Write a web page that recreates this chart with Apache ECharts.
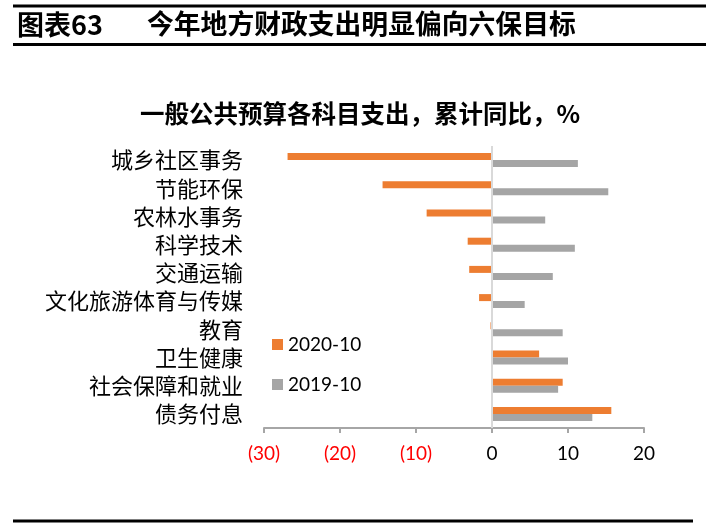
<!DOCTYPE html>
<html>
<head>
<meta charset="utf-8">
<script src="https://cdn.jsdelivr.net/npm/echarts@6/dist/echarts.min.js"></script>
<style>
html,body{margin:0;padding:0;background:#fff;}
#main{width:717px;height:523px;}
</style>
</head>
<body>
<div id="main"></div>
<script>
const categories = ['城乡社区事务','节能环保','农林水事务','科学技术','交通运输','文化旅游体育与传媒','教育','卫生健康','社会保障和就业','债务付息'];
const series2020 = [-26.9, -14.4, -8.6, -3.2, -3.0, -1.7, -0.2, 6.2, 9.3, 15.7];
const series2019 = [11.3, 15.3, 7.0, 10.9, 8.0, 4.3, 9.3, 10.0, 8.7, 13.2];
const seriesNames = ['2020-10','2019-10'];
const xTicks = { min: -30, max: 20, interval: 10 };
const figTitle = '图表63';
const figSubject = '今年地方财政支出明显偏向六保目标';
const chartTitle = '一般公共预算各科目支出，累计同比，%';

const chart = echarts.init(document.getElementById('main'), null, {renderer:'canvas'});
const cjk = '"Noto Sans CJK SC", "Noto Sans", sans-serif';
const num = 'Lato, "Noto Sans", sans-serif';

chart.setOption({
  animation: false,
  backgroundColor: '#fff',
  title: {
    text: chartTitle,
    left: 355, top: 96, textAlign: 'center',
    textStyle: { fontFamily: cjk, fontSize: 24.5, fontWeight: 'bold', color: '#000' }
  },
  graphic: [
    { type: 'line', shape: { x1: 13, y1: 6, x2: 706, y2: 6 }, style: { stroke: '#000', lineWidth: 3 } },
    { type: 'line', shape: { x1: 13, y1: 44.5, x2: 706, y2: 44.5 }, style: { stroke: '#000', lineWidth: 3 } },
    { type: 'line', shape: { x1: 13, y1: 521, x2: 693, y2: 521 }, style: { stroke: '#000', lineWidth: 3 } },
    { type: 'text', left: 17, top: 11, style: { text: figTitle, font: 'bold 27px ' + cjk, fill: '#000' } },
    { type: 'text', left: 147, top: 10, style: { text: figSubject, font: 'bold 26.8px ' + cjk, fill: '#000' } }
  ],
  legend: {
    orient: 'vertical',
    left: 272, top: 335, padding: 0,
    itemWidth: 11, itemHeight: 11, itemGap: 21,
    icon: 'rect',
    data: seriesNames,
    textStyle: { fontFamily: num, fontSize: 19, color: '#000', lineHeight: 19 }
  },
  grid: { left: 264, right: 73, top: 146, bottom: 95, containLabel: false },
  xAxis: {
    type: 'value',
    min: xTicks.min, max: xTicks.max, interval: xTicks.interval,
    axisLine: { show: true, lineStyle: { color: '#a6a6a6', width: 2 } },
    axisTick: { show: true, length: 5, lineStyle: { color: '#a6a6a6', width: 2 } },
    splitLine: { show: false },
    axisLabel: {
      margin: 16,
      fontFamily: num, fontSize: 19,
      formatter: v => v < 0 ? '(' + Math.abs(v) + ')' : String(v),
      color: v => (Number(v) < 0 ? '#ff0000' : '#000')
    }
  },
  yAxis: {
    type: 'category',
    inverse: true,
    data: categories,
    axisLine: { show: false, onZero: false },
    axisTick: { show: false },
    axisLabel: { interval: 0, hideOverlap: false, margin: 21, fontFamily: cjk, fontSize: 22, color: '#000' }
  },
  series: [
    {
      name: seriesNames[0], type: 'bar', data: series2020,
      barWidth: 7, barGap: '0%',
      itemStyle: { color: '#ED7D31' },
      markLine: {
        silent: true, symbol: ['none','none'], label: { show: false },
        lineStyle: { color: '#d9d9d9', type: 'solid', width: 2 },
        data: [{ xAxis: 0 }]
      }
    },
    {
      name: seriesNames[1], type: 'bar', data: series2019,
      barWidth: 7, barGap: '0%',
      itemStyle: { color: '#A5A5A5' }
    }
  ]
});
</script>
</body>
</html>
